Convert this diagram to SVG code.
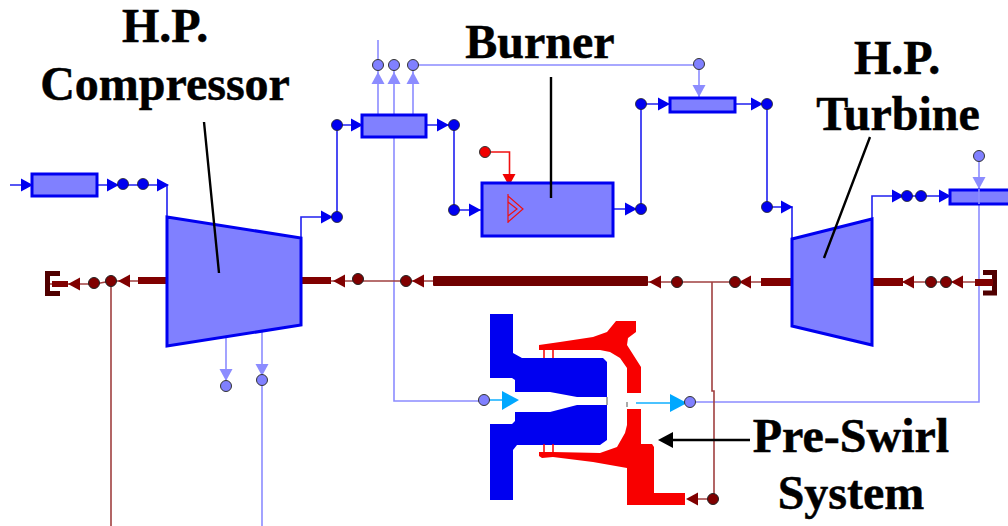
<svg xmlns="http://www.w3.org/2000/svg" width="1008" height="526" viewBox="0 0 1008 526">
<style>
.t{font-family:"Liberation Serif","Times New Roman",serif;font-weight:bold;font-size:48px;fill:#000;stroke:#000;stroke-width:.5;text-anchor:middle}
.box{fill:#8080ff;stroke:#0000f0;stroke-width:3}
.b{fill:none;stroke:#2020f0;stroke-width:1.600}
.l{fill:none;stroke:#8c8cff;stroke-width:1.600}
.m{fill:none;stroke:#a04040;stroke-width:1.600}
.c{fill:none;stroke:#10b0ff;stroke-width:1.600}
.r{fill:none;stroke:#f01010;stroke-width:1.600}
.call{fill:none;stroke:#000;stroke-width:2.400}
.db{fill:#0000f0;stroke:#222;stroke-width:.8}
.dl{fill:#8080ff;stroke:#333;stroke-width:1}
.dm{fill:#800000;stroke:#222;stroke-width:1}
.dr{fill:#f00000;stroke:#333;stroke-width:1}
.ab{fill:#0000f0}.al{fill:#8c8cff}.am{fill:#800000}.ac{fill:#00a8ff}.ar{fill:#f00000}
.sh{fill:#800000}
.blue{fill:#0000f0}.red{fill:#f80000}
</style>
<defs>
<circle id="d" r="5.500"/>
<polygon id="ar" points="0,-6.500 12,0 0,6.500"/>
<polygon id="al" points="0,-6.500 -12,0 0,6.500"/>
<polygon id="ad" points="-6.500,0 6.500,0 0,12"/>
<polygon id="au" points="-6.500,0 6.500,0 0,-12"/>
</defs>
<rect width="1008" height="526" fill="#fff"/>

<g id="connectors">
<path class="b" d="M10 185H32M97 185H167V217M301 238V217H337M337 217V125H362M426 125H454V210H482M613 209H641V104H670M735 104H767V207H792V239M872 219V196H950"/>
<path class="l" d="M378 40V115M394 65V115M413 65V115M394 137V401H485M413 65H699V97M226 336V380M262 331V526M979 156V402H690"/>
<path class="c" d="M485 400H505M636 403H672"/>
<path class="r" d="M485 152H509.500V176"/>
<path class="m" d="M45 284H95L111 281H138M111 281V526M331 281H358L406 281H433M648 282H761M712 282V391H714V499H695M903 282H975"/>

<use href="#ar" x="21" y="185" class="ab"/><use href="#ar" x="107" y="185" class="ab"/><use href="#ar" x="157" y="185" class="ab"/>
<use href="#ar" x="321" y="217" class="ab"/><use href="#ar" x="351" y="125" class="ab"/><use href="#ar" x="437" y="125" class="ab"/>
<use href="#ar" x="469" y="210" class="ab"/><use href="#ar" x="625" y="209" class="ab"/><use href="#ar" x="658" y="104" class="ab"/>
<use href="#ar" x="751" y="104" class="ab"/><use href="#ar" x="781" y="207" class="ab"/><use href="#ar" x="892" y="196" class="ab"/><use href="#ar" x="939" y="196" class="ab"/>
<use href="#au" x="378" y="84" class="al"/><use href="#au" x="394" y="84" class="al"/><use href="#au" x="413" y="84" class="al"/>
<use href="#ad" x="699" y="85" class="al"/><use href="#ad" x="979" y="177" class="al"/><use href="#ad" x="226" y="369" class="al"/><use href="#ad" x="262" y="364" class="al"/>
<use href="#ad" x="509" y="174" class="ar"/>
<use href="#al" x="80" y="284" class="am"/><use href="#al" x="130" y="281" class="am"/><use href="#al" x="345" y="281" class="am"/>
<use href="#al" x="424" y="281" class="am"/><use href="#al" x="661" y="282" class="am"/><use href="#al" x="751" y="282" class="am"/>
<use href="#al" x="914" y="282" class="am"/><use href="#al" x="963" y="282" class="am"/><use href="#al" x="698" y="499" class="am"/>
<polygon class="ac" points="502,391 519,400 502,410"/><polygon class="ac" points="670,394 687,403 670,412"/>

<use href="#d" x="123" y="184" class="db"/><use href="#d" x="143" y="184" class="db"/><use href="#d" x="337" y="217" class="db"/>
<use href="#d" x="337" y="125" class="db"/><use href="#d" x="454" y="125" class="db"/><use href="#d" x="454" y="210" class="db"/>
<use href="#d" x="641" y="209" class="db"/><use href="#d" x="641" y="104" class="db"/><use href="#d" x="767" y="104" class="db"/>
<use href="#d" x="767" y="207" class="db"/><use href="#d" x="907" y="196" class="db"/><use href="#d" x="921" y="196" class="db"/>
<use href="#d" x="378" y="65" class="dl"/><use href="#d" x="394" y="65" class="dl"/><use href="#d" x="413" y="65" class="dl"/>
<use href="#d" x="699" y="64" class="dl"/><use href="#d" x="979" y="156" class="dl"/><use href="#d" x="226" y="386" class="dl"/><use href="#d" x="262" y="380" class="dl"/>
<use href="#d" x="484" y="400" class="dl"/><use href="#d" x="690" y="402" class="dl"/>
<use href="#d" x="485" y="152" class="dr"/>
<use href="#d" x="94" y="283" class="dm"/><use href="#d" x="111" y="281" class="dm"/><use href="#d" x="358" y="279" class="dm"/><use href="#d" x="406" y="281" class="dm"/>
<use href="#d" x="677" y="282" class="dm"/><use href="#d" x="735" y="282" class="dm"/><use href="#d" x="931" y="282" class="dm"/><use href="#d" x="946" y="282" class="dm"/><use href="#d" x="713" y="499" class="dm"/>
</g>

<g id="shaft">
<rect class="sh" x="138" y="277" width="29" height="7"/><rect class="sh" x="301" y="277" width="30" height="7"/>
<rect x="433" y="276" width="215" height="10" rx="1" fill="#700000"/>
<rect class="sh" x="761" y="278" width="31" height="8"/><rect class="sh" x="872" y="278" width="31" height="8"/>
</g>
<g id="end-left"><path d="M60 273.500H47.500V293.500H60" fill="none" stroke="#500000" stroke-width="5"/><rect class="sh" x="52" y="281" width="16" height="6"/></g>
<g id="end-right"><path d="M983 272.500H994.500V293H983" fill="none" stroke="#500000" stroke-width="5"/><rect class="sh" x="975" y="279" width="18" height="7"/></g>

<g id="inlet-duct"><rect class="box" x="32" y="174" width="65" height="22"/></g>
<g id="compressor"><polygon class="box" points="167,217 301,238 301,325 167,346"/></g>
<g id="bleed-duct"><rect class="box" x="362" y="115" width="64" height="22"/></g>
<g id="burner-box"><rect class="box" x="482" y="183" width="131" height="53"/>
<path d="M508 194V223M508 196L523 209L508 222M508 202L517 209L508 216" fill="none" stroke="#f01010" stroke-width="1.200"/></g>
<g id="cooling-duct"><rect class="box" x="670" y="98" width="65" height="14"/></g>
<g id="turbine"><polygon class="box" points="792,239 872,219 872,345 792,326"/></g>
<g id="exit-duct"><rect class="box" x="950" y="190" width="60" height="14"/></g>
<path class="l" d="M979 189V204"/>

<g id="pre-swirl">
<polygon class="blue" points="490,314 513,314 513,353 522,358 603,358 607,362 607,397 577,397 550,392 515,392 515,380 512,378 490,378"/>
<polygon class="blue" points="490,424 512,424 515,421 515,412 550,412 577,405 607,405 607,440 600,445 517,445 513,450 513,500 490,500"/>
<polygon class="red" points="539,345 560,342 593,337 607,332 616,321 636,321 636,332 628,338 627,345 641,367 641,393 627,393 627,368 620,358 610,352 600,350 553,350 539,350"/>
<polygon class="red" points="627,409 641,409 641,444 652,444 654,447 654,493 685,493 685,505 627,505 627,468 593,462 553,457 542,458 539,456 539,452 553,452 600,453 617,447 625,433 627,425"/>
<path d="M544 350V358M553 350V358M544 444V452M553 444V452" fill="none" stroke="#f80000" stroke-width="1.500"/>
<path d="M607 397V405M627 402V407" stroke="#555" stroke-width="1"/>
</g>

<g id="labels">
<path class="call" d="M204 122L219 273M551 77V198M870 137L824 258M750 440H670"/>
<polygon points="658,440 673,432 673,448" fill="#000"/>
<text class="t" x="165" y="42">H.P.</text>
<text class="t" x="165" y="100">Compressor</text>
<text class="t" x="540" y="58">Burner</text>
<text class="t" x="897" y="74">H.P.</text>
<text class="t" x="898" y="130">Turbine</text>
<text class="t" x="851" y="452">Pre-Swirl</text>
<text class="t" x="851" y="509">System</text>
</g>
</svg>
